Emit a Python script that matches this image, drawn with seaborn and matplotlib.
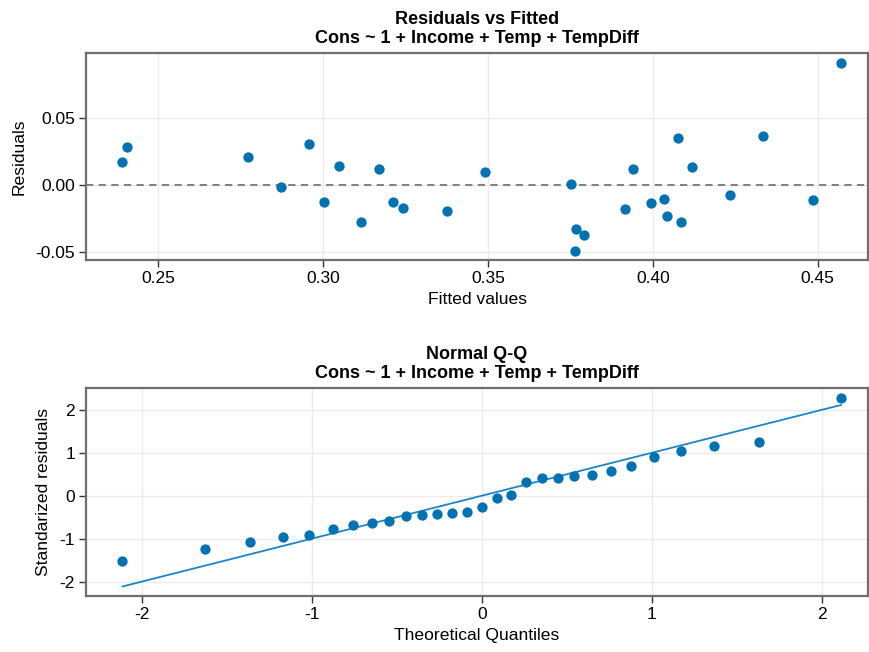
import numpy as np
import pandas as pd
import seaborn as sns
import matplotlib.pyplot as plt

# Residuals vs fitted values
fitted = [0.2389, 0.2404, 0.2772, 0.2872, 0.2957, 0.3002, 0.3048, 0.3116, 0.3170,
          0.3212, 0.3241, 0.3376, 0.3492, 0.3752, 0.3766, 0.3790, 0.3763, 0.3940,
          0.3917, 0.3996, 0.4033, 0.4043, 0.4077, 0.4085, 0.4120, 0.4233, 0.4334,
          0.4486, 0.4571]
residuals = [0.0169, 0.0286, 0.0209, -0.0013, 0.0304, -0.0125, 0.0142, -0.0276, 0.0122,
             -0.0125, -0.0174, -0.0196, 0.0095, 0.0007, -0.0328, -0.0371, -0.0493, 0.0119,
             -0.0179, -0.0134, -0.0104, -0.0231, 0.0353, -0.0276, 0.0132, -0.0072, 0.0366,
             -0.0114, 0.0913]

# Normal Q-Q
theoretical = [-2.114, -1.628, -1.365, -1.172, -1.014, -0.878, -0.758, -0.647, -0.544,
               -0.447, -0.353, -0.262, -0.174, -0.087, 0.0, 0.087, 0.174, 0.262, 0.353,
               0.447, 0.544, 0.647, 0.758, 0.878, 1.014, 1.172, 1.365, 1.628, 2.114]
std_resid = [-1.512, -1.233, -1.070, -0.961, -0.907, -0.775, -0.667, -0.620, -0.574,
             -0.465, -0.434, -0.419, -0.403, -0.364, -0.248, -0.047, 0.031, 0.318, 0.411,
             0.426, 0.457, 0.481, 0.574, 0.690, 0.907, 1.039, 1.163, 1.264, 2.272]
ref_x = [-2.114, 2.114]
ref_y = [-2.109, 2.116]

formula = "Cons ~ 1 + Income + Temp + TempDiff"
blue = "#0072B2"

sns.set_theme(style="white")
plt.rcParams['font.family'] = ['Liberation Sans', 'DejaVu Sans']
plt.rcParams['axes.unicode_minus'] = False
plt.rcParams['text.color'] = 'black'
plt.rcParams['axes.labelcolor'] = 'black'
plt.rcParams['xtick.color'] = 'black'
plt.rcParams['ytick.color'] = 'black'

fig = plt.figure(figsize=(8.7, 6.52), dpi=100)
ax1 = fig.add_axes([0.0989, 0.6012, 0.8989, 0.3175])
ax2 = fig.add_axes([0.0989, 0.0859, 0.8989, 0.3190])

df1 = pd.DataFrame({"fitted": fitted, "resid": residuals})
df2 = pd.DataFrame({"q": theoretical, "r": std_resid})

# top panel
ax1.axhline(0, color="#777777", lw=1.3, ls=(0, (4, 3)), zorder=1)
sns.scatterplot(data=df1, x="fitted", y="resid", ax=ax1, color=blue, s=55,
                linewidth=0, zorder=3)
ax1.set_xlim(0.2281, 0.4653)
ax1.set_ylim(-0.056, 0.0985)
ax1.set_xticks([0.25, 0.30, 0.35, 0.40, 0.45])
ax1.set_xticklabels(["0.25", "0.30", "0.35", "0.40", "0.45"])
ax1.set_yticks([-0.05, 0.0, 0.05])
ax1.set_yticklabels(["-0.05", "0.00", "0.05"])
ax1.set_xlabel("Fitted values", fontsize=12.6, labelpad=4)
ax1.set_ylabel("Residuals", fontsize=12.6, labelpad=6)
ax1.set_title("Residuals vs Fitted\n" + formula, fontsize=13,
              fontweight="bold", pad=7, linespacing=1.2)

# bottom panel
sns.lineplot(x=ref_x, y=ref_y, ax=ax2, color="#1a86c8", lw=1.3, zorder=2)
sns.scatterplot(data=df2, x="q", y="r", ax=ax2, color=blue, s=55,
                linewidth=0, zorder=3)
ax2.set_xlim(-2.328, 2.272)
ax2.set_ylim(-2.33, 2.51)
ax2.set_xticks([-2, -1, 0, 1, 2])
ax2.set_yticks([-2, -1, 0, 1, 2])
ax2.set_xlabel("Theoretical Quantiles", fontsize=12.6, labelpad=4)
ax2.set_ylabel("Standarized residuals", fontsize=12.6, labelpad=6)
ax2.set_title("Normal Q-Q\n" + formula, fontsize=13,
              fontweight="bold", pad=7, linespacing=1.2)

for ax in (ax1, ax2):
    ax.grid(True, color="#ebebeb", lw=1)
    ax.set_axisbelow(True)
    for sp in ax.spines.values():
        sp.set_color("#6e6e6e")
        sp.set_linewidth(1.6)
    ax.tick_params(axis="both", which="major", direction="out", length=5,
                   width=1, color="#333333", labelsize=12.5, pad=3,
                   bottom=True, left=True, top=False, right=False)

fig.savefig("out.png", dpi=100)
